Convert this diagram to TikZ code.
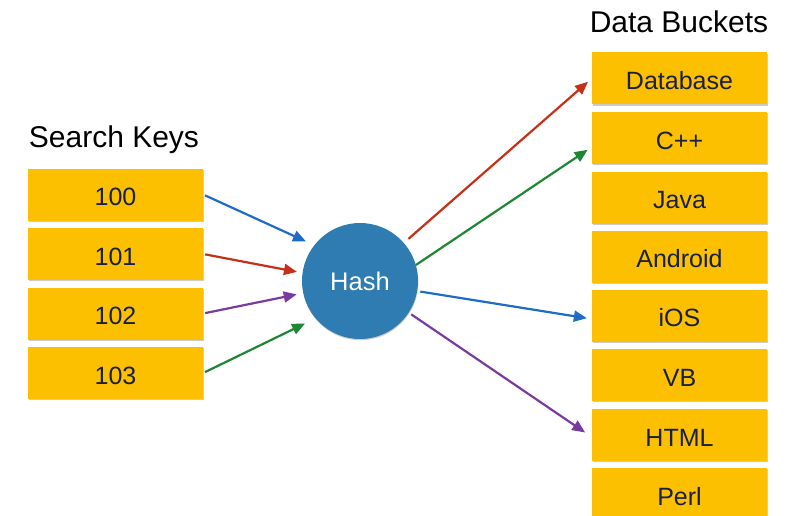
\documentclass[tikz,border=0pt]{standalone}
\usepackage{fontspec}
\setmainfont{Liberation Sans}
\usetikzlibrary{positioning, arrows.meta, shadows}
\definecolor{bucketyellow}{RGB}{252,192,0}
\definecolor{hashblue}{RGB}{46,124,178}
\definecolor{labelnavy}{RGB}{24,32,68}
\definecolor{arrblue}{RGB}{30,108,200}
\definecolor{arrred}{RGB}{196,48,24}
\definecolor{arrpurple}{RGB}{120,60,160}
\definecolor{arrgreen}{RGB}{28,136,52}

\begin{document}
\begin{tikzpicture}[x=1pt,y=-1pt,
    keybox/.style={rectangle, fill=bucketyellow, text=labelnavy, minimum width=175pt, minimum height=52pt,
        inner sep=0pt, text height=22.5pt, text depth=0pt, font=\fontsize{25}{30}\selectfont,
        drop shadow={shadow xshift=0.6pt, shadow yshift=-1.4pt, opacity=0.2, fill=black}},
    title/.style={anchor=base, font=\fontsize{30}{36}\selectfont, inner sep=0pt},
    hashnode/.style={circle, fill=hashblue, text=white, minimum size=116pt, inner sep=0pt,
        font=\fontsize{25.5}{30}\selectfont,
        drop shadow={shadow xshift=0.4pt, shadow yshift=-1.2pt, opacity=0.2, fill=black}},
    link/.style={line width=2.2pt, -{Triangle[length=13pt,width=11pt]}}]
            \path[use as bounding box, clip] (0,0) rectangle (787,516);
            % search keys
            \node[title] (keystitle) at (114,147){Search Keys};
            \node[keybox] (k100) at (115.5,194.5){100};
            \node[keybox] (k101) at (115.5,254){101};
            \node[keybox] (k102) at (115.5,313.5){102};
            \node[keybox] (k103) at (115.5,373){103};
            % hash function
            \node[hashnode] (hash) at (360,281){Hash};
            % data buckets
            \node[title] (buckettitle) at (679,33){Data Buckets};
            \node[keybox] (db) at (679.5,78.5){Database};
            \node[keybox] (cpp) at (679.5,138){C++};
            \node[keybox] (java) at (679.5,197.5){Java};
            \node[keybox] (android) at (679.5,256.5){Android};
            \node[keybox] (ios) at (679.5,315.5){iOS};
            \node[keybox] (vb) at (679.5,375){VB};
            \node[keybox] (html) at (679.5,435){HTML};
            \node[keybox] (perl) at (679.5,494){Perl};
            % keys into hash
            \draw[link, arrblue, shorten <=2pt, shorten >=9pt] (k100.east) -- (hash.142);
            \draw[link, arrred, shorten <=2pt, shorten >=5.5pt] (k101.east) -- (hash.172);
            \draw[link, arrpurple, shorten <=2pt, shorten >=6.5pt] (k102.east) -- (hash.192);
            \draw[link, arrgreen, shorten <=2pt, shorten >=11.5pt] (k103.east) -- (hash.220);
            % hash into buckets
            \draw[link, arrred, shorten <=6pt, shorten >=5pt] (hash.41) -- (db.west);
            \draw[link, arrgreen, shorten >=5pt] (hash.16) -- ([yshift=-9pt]cpp.west);
            \draw[link, arrblue, shorten <=3pt, shorten >=5pt] (hash.-10) -- ([yshift=-3.5pt]ios.west);
            \draw[link, arrpurple, shorten <=3pt, shorten >=8pt] (hash.-33) -- ([yshift=-2pt]html.west);
        \end{tikzpicture}
\end{document}
